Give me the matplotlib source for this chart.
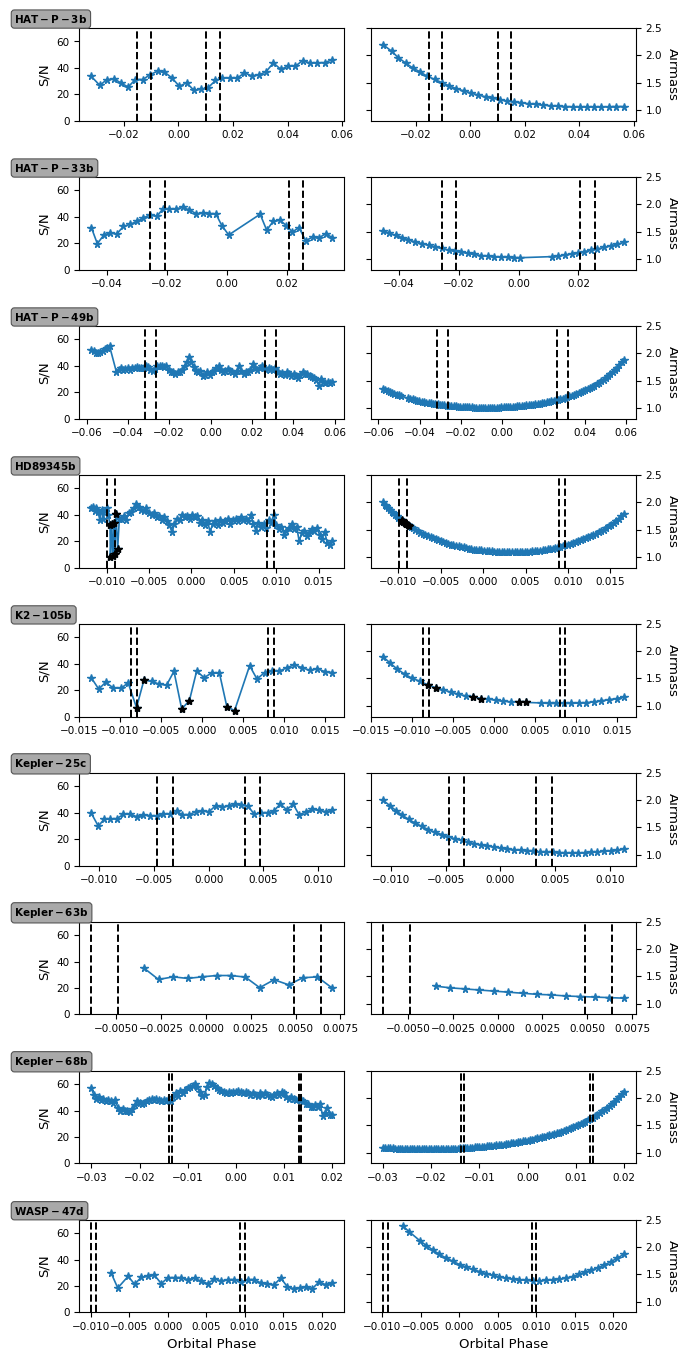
import matplotlib
matplotlib.use('Agg')
import matplotlib.pyplot as plt
from matplotlib.ticker import MultipleLocator

# ---------------- data ----------------
planets = ['HAT-P-3b', 'HAT-P-33b', 'HAT-P-49b', 'HD89345b', 'K2-105b',
           'Kepler-25c', 'Kepler-63b', 'Kepler-68b', 'WASP-47d']

hat3_phase = [-0.0319, -0.0288, -0.0263, -0.0236, -0.0210, -0.0184, -0.0158, -0.0130, -0.0103, -0.0076,
              -0.0051, -0.0024, 0.0004, 0.0030, 0.0057, 0.0082, 0.0109, 0.0136, 0.0161, 0.0188,
              0.0215, 0.0242, 0.0269, 0.0296, 0.0321, 0.0348, 0.0376, 0.0402, 0.0428, 0.0455,
              0.0481, 0.0509, 0.0536, 0.0564]
hat3_snr = [33.5, 26.8, 31.0, 31.8, 28.5, 25.5, 31.2, 31.2, 35.0, 37.5,
            36.8, 32.5, 26.0, 28.8, 23.0, 23.8, 25.0, 30.5, 32.5, 32.2,
            32.2, 36.2, 34.0, 34.8, 37.0, 43.8, 38.8, 41.5, 41.2, 45.5,
            43.8, 43.8, 44.0, 46.2]
hat3_airmass = [2.20, 2.08, 1.96, 1.86, 1.77, 1.70, 1.62, 1.56, 1.50, 1.44,
                1.39, 1.35, 1.31, 1.27, 1.24, 1.21, 1.19, 1.16, 1.15, 1.13,
                1.11, 1.10, 1.085, 1.075, 1.067, 1.06, 1.055, 1.055, 1.055, 1.055,
                1.055, 1.055, 1.06, 1.06]
hat3_contacts = [-0.0151, -0.0102, 0.0102, 0.0151]
hat3_flag = []

hat33_phase = [-0.0453, -0.0433, -0.0411, -0.0389, -0.0368, -0.0346, -0.0323, -0.0301, -0.0279, -0.0257,
               -0.0234, -0.0214, -0.0192, -0.0170, -0.0148, -0.0126, -0.0103, -0.0081, -0.0059, -0.0037,
               -0.0017, 0.0006, 0.0111, 0.0133, 0.0154, 0.0177, 0.0199, 0.0219, 0.0241, 0.0263,
               0.0286, 0.0308, 0.0330, 0.0352]
hat33_snr = [31.9, 19.7, 26.3, 27.8, 27.1, 32.7, 34.4, 36.5, 39.2, 41.5,
             40.3, 46.1, 45.6, 46.1, 47.1, 45.3, 42.5, 42.8, 42.5, 42.3,
             33.4, 26.3, 42.0, 29.9, 36.5, 37.5, 33.4, 28.6, 31.9, 22.0,
             24.6, 24.1, 27.3, 24.3]
hat33_airmass = [1.52, 1.47, 1.43, 1.39, 1.35, 1.31, 1.28, 1.25, 1.22, 1.19,
                 1.16, 1.14, 1.12, 1.10, 1.08, 1.06, 1.05, 1.04, 1.03, 1.025,
                 1.02, 1.02, 1.04, 1.05, 1.07, 1.09, 1.11, 1.13, 1.16, 1.18,
                 1.21, 1.24, 1.27, 1.30]
hat33_contacts = [-0.0256, -0.0208, 0.0206, 0.0255]
hat33_flag = []

hat49_phase = [-0.0577, -0.0566, -0.0555, -0.0544, -0.0533, -0.0522, -0.0511, -0.0500, -0.0489,
               -0.0456, -0.0445, -0.0434, -0.0423, -0.0412, -0.0401, -0.0390, -0.0379, -0.0368, -0.0357,
               -0.0346, -0.0335, -0.0324, -0.0313, -0.0302, -0.0291, -0.0280, -0.0269, -0.0258, -0.0247,
               -0.0236, -0.0225, -0.0214, -0.0203, -0.0192, -0.0181, -0.0170, -0.0159, -0.0148, -0.0137,
               -0.0126, -0.0115, -0.0104, -0.0093, -0.0082, -0.0071, -0.0060, -0.0049, -0.0038, -0.0027,
               -0.0016, -0.0005, 0.0006, 0.0017, 0.0028, 0.0039, 0.0050, 0.0061, 0.0072, 0.0083,
               0.0094, 0.0105, 0.0116, 0.0127, 0.0138, 0.0149, 0.0160, 0.0171, 0.0182, 0.0193,
               0.0204, 0.0215, 0.0226, 0.0237, 0.0248, 0.0259, 0.0270, 0.0281, 0.0292, 0.0303,
               0.0314, 0.0325, 0.0336, 0.0347, 0.0358, 0.0369, 0.0380, 0.0391, 0.0402, 0.0413,
               0.0424, 0.0435, 0.0446, 0.0457, 0.0468, 0.0479, 0.0490, 0.0501, 0.0512, 0.0523,
               0.0534, 0.0545, 0.0556, 0.0567, 0.0578, 0.0589]
hat49_snr = [52.0, 51.0, 50.0, 49.5, 50.5, 51.5, 52.5, 53.5, 55.0,
             35.5, 37.0, 38.0, 37.0, 37.5, 38.0, 37.0, 38.0, 38.5, 39.0,
             38.0, 38.5, 38.5, 40.0, 39.0, 37.0, 36.0, 37.5, 39.5, 40.0,
             40.0, 39.0, 40.0, 37.0, 35.5, 35.0, 34.0, 35.0, 35.0, 37.0,
             40.0, 43.0, 46.5, 43.0, 39.0, 36.0, 35.0, 36.0, 32.5, 33.0,
             35.0, 33.0, 35.5, 36.0, 38.0, 39.5, 37.0, 35.0, 36.0, 37.5,
             36.0, 35.5, 33.5, 36.0, 39.5, 36.0, 34.0, 35.0, 35.5, 37.0,
             41.5, 38.0, 36.5, 38.0, 40.0, 38.5, 37.0, 38.0, 37.5, 37.0,
             38.0, 35.0, 33.5, 34.5, 33.0, 35.0, 33.5, 32.5, 34.0, 32.0,
             31.0, 33.0, 35.0, 34.0, 33.5, 32.0, 31.5, 30.5, 29.5, 25.0,
             30.0, 27.5, 27.0, 28.0, 27.0, 27.5]
hat49_airmass = [1.350, 1.330, 1.310, 1.292, 1.275, 1.258, 1.242, 1.227, 1.213,
                 1.174, 1.163, 1.152, 1.141, 1.131, 1.121, 1.112, 1.104, 1.095, 1.088,
                 1.080, 1.073, 1.067, 1.060, 1.055, 1.049, 1.044, 1.039, 1.034, 1.030,
                 1.026, 1.023, 1.019, 1.016, 1.013, 1.011, 1.009, 1.007, 1.005, 1.003,
                 1.002, 1.001, 1.001, 1.000, 1.000, 1.000, 1.000, 1.001, 1.002, 1.003,
                 1.004, 1.006, 1.008, 1.010, 1.012, 1.015, 1.018, 1.021, 1.025, 1.029,
                 1.033, 1.037, 1.042, 1.047, 1.053, 1.058, 1.064, 1.071, 1.078, 1.085,
                 1.093, 1.101, 1.109, 1.118, 1.127, 1.137, 1.148, 1.158, 1.170, 1.182,
                 1.195, 1.208, 1.222, 1.237, 1.252, 1.269, 1.286, 1.304, 1.323, 1.343,
                 1.364, 1.386, 1.409, 1.434, 1.460, 1.488, 1.518, 1.549, 1.582, 1.618,
                 1.655, 1.696, 1.738, 1.784, 1.834, 1.887]
hat49_contacts = [-0.0318, -0.0265, 0.0265, 0.0318]
hat49_flag = []

hd_phase = [-0.0118, -0.0116, -0.0114, -0.0112, -0.0110, -0.0108, -0.0106, -0.0104, -0.0102, -0.0100,
            -0.0098, -0.0096, -0.00955, -0.0094, -0.00925, -0.0091, -0.00905, -0.0089, -0.0087, -0.0085,
            -0.0083, -0.0080, -0.0077, -0.0074, -0.0071, -0.0068, -0.0065, -0.0062, -0.0059, -0.0056,
            -0.0053, -0.0050, -0.0047, -0.0044, -0.0041, -0.0038, -0.0035, -0.0032, -0.0029, -0.0026,
            -0.0023, -0.0020, -0.0017, -0.0014, -0.0011, -0.0008, -0.0005, -0.0002, 0.0001, 0.0004,
            0.0007, 0.0010, 0.0013, 0.0016, 0.0019, 0.0022, 0.0025, 0.0028, 0.0031, 0.0034,
            0.0037, 0.0040, 0.0043, 0.0046, 0.0049, 0.0052, 0.0055, 0.0058, 0.0061, 0.0064,
            0.0067, 0.0070, 0.0073, 0.0076, 0.0079, 0.0082, 0.0085, 0.0088, 0.0091, 0.0094,
            0.0097, 0.0100, 0.0103, 0.0106, 0.0109, 0.0112, 0.0115, 0.0118, 0.0121, 0.0124,
            0.0127, 0.0130, 0.0133, 0.0136, 0.0139, 0.0142, 0.0145, 0.0148, 0.0151, 0.0154,
            0.0157, 0.0160, 0.0163, 0.0166]
hd_snr = [45, 46, 43, 45, 42, 36, 44, 37, 43, 45,
          40, 32, 8.3, 33, 8.8, 34, 10, 40.8, 14, 37,
          37, 39, 36, 41, 42, 45, 48, 46, 44, 43,
          45, 41, 40, 41, 38, 39, 36, 38, 35, 32,
          27, 33, 37, 36, 40, 38, 39, 37, 40, 38,
          39, 34, 36, 32, 35, 27, 33, 35, 32, 36,
          34, 35, 37, 33, 36, 37, 35, 38, 36, 37,
          35, 40, 33, 28, 34, 31, 33, 30, 36, 34,
          40, 32, 29, 31, 25, 28, 30, 33, 29, 31,
          20, 26, 28, 24, 26, 29, 28, 30, 25, 22,
          27, 19, 17, 20]
hd_airmass = [2.00, 1.96, 1.93, 1.90, 1.86, 1.83, 1.80, 1.77, 1.75, 1.72,
              1.69, 1.67, 1.66, 1.64, 1.62, 1.60, 1.60, 1.58, 1.56, 1.54,
              1.52, 1.49, 1.47, 1.44, 1.42, 1.40, 1.38, 1.36, 1.34, 1.32,
              1.30, 1.28, 1.265, 1.25, 1.235, 1.22, 1.21, 1.20, 1.19, 1.18,
              1.17, 1.16, 1.15, 1.14, 1.13, 1.125, 1.12, 1.115, 1.11, 1.105,
              1.10, 1.10, 1.095, 1.09, 1.09, 1.09, 1.085, 1.085, 1.085, 1.085,
              1.085, 1.085, 1.087, 1.09, 1.09, 1.093, 1.095, 1.10, 1.10, 1.105,
              1.11, 1.12, 1.125, 1.135, 1.14, 1.15, 1.16, 1.17, 1.185, 1.20,
              1.21, 1.22, 1.235, 1.25, 1.265, 1.28, 1.30, 1.32, 1.34, 1.36,
              1.38, 1.40, 1.42, 1.45, 1.47, 1.50, 1.53, 1.56, 1.59, 1.62,
              1.66, 1.70, 1.74, 1.79]
hd_contacts = [-0.0099, -0.0090, 0.0089, 0.0097]
hd_flag = [11, 12, 13, 14, 15, 16, 17, 18]

k2_phase = [-0.01355, -0.01265, -0.0118, -0.0109, -0.00996, -0.00906, -0.00804, -0.00714, -0.0062, -0.0053,
            -0.00437, -0.00347, -0.00253, -0.00159, -0.0007, 0.0002, 0.00114, 0.00208, 0.00298, 0.00392,
            0.00576, 0.00665, 0.0076, 0.0085, 0.0094, 0.01033, 0.01122, 0.01216, 0.0131, 0.014,
            0.01494, 0.01584]
k2_snr = [29.3, 20.8, 26.0, 21.8, 21.3, 25.5, 6.8, 27.5, 26.8, 24.5,
          23.8, 34.3, 5.8, 12.0, 34.5, 29.5, 33.0, 32.8, 7.5, 4.5,
          38.5, 28.5, 33.3, 34.5, 34.5, 37.0, 39.3, 37.0, 35.0, 36.3,
          34.0, 33.3]
k2_airmass = [1.90, 1.78, 1.67, 1.58, 1.50, 1.45, 1.38, 1.33, 1.29, 1.25,
              1.21, 1.18, 1.16, 1.13, 1.12, 1.10, 1.08, 1.07, 1.07, 1.06,
              1.05, 1.04, 1.04, 1.04, 1.04, 1.05, 1.055, 1.07, 1.09, 1.11,
              1.13, 1.16]
k2_contacts = [-0.0087, -0.0080, 0.0080, 0.0087]
k2_flag = [6, 7, 12, 13, 18, 19]

k25_phase = [-0.01073, -0.01009, -0.00955, -0.0090, -0.0084, -0.00779, -0.00718, -0.00658, -0.00597, -0.00536,
             -0.00476, -0.00415, -0.00355, -0.00294, -0.0024, -0.00179, -0.00118, -0.00058, 0.00003, 0.00064,
             0.00124, 0.00185, 0.00239, 0.0030, 0.00361, 0.00418, 0.00479, 0.00539, 0.00594, 0.00655,
             0.00712, 0.00773, 0.00827, 0.00888, 0.00948, 0.01009, 0.0107, 0.0113]
k25_snr = [39.5, 29.8, 35.3, 35.3, 35.5, 38.8, 38.8, 37.0, 38.3, 37.8,
           37.5, 39.3, 38.8, 41.0, 38.5, 38.5, 40.8, 41.3, 40.8, 45.3,
           44.3, 45.3, 46.3, 45.8, 44.8, 38.8, 40.0, 40.0, 41.0, 46.8,
           42.3, 46.3, 38.5, 40.5, 42.5, 41.8, 40.8, 41.8]
k25_airmass = [2.00, 1.90, 1.81, 1.73, 1.65, 1.58, 1.52, 1.46, 1.41, 1.37,
               1.33, 1.29, 1.26, 1.23, 1.20, 1.18, 1.16, 1.14, 1.12, 1.10,
               1.09, 1.08, 1.07, 1.06, 1.05, 1.045, 1.04, 1.035, 1.03, 1.03,
               1.03, 1.035, 1.04, 1.05, 1.06, 1.07, 1.085, 1.10]
k25_contacts = [-0.0047, -0.0033, 0.0033, 0.0047]
k25_flag = []

k63_phase = [-0.00345, -0.00265, -0.00183, -0.00103, -0.00022, 0.0006, 0.0014, 0.0022, 0.0030, 0.0038,
             0.00461, 0.00541, 0.00621, 0.00705]
k63_snr = [35.0, 26.5, 28.5, 27.3, 28.5, 29.5, 29.5, 28.3, 20.3, 26.3,
           22.5, 27.8, 28.5, 20.0]
k63_airmass = [1.32, 1.29, 1.27, 1.25, 1.23, 1.21, 1.19, 1.17, 1.16, 1.14,
               1.13, 1.12, 1.11, 1.10]
k63_contacts = [-0.0064, -0.0049, 0.0049, 0.0064]
k63_flag = []

k68_phase = [-0.0300, -0.0295, -0.0290, -0.0285, -0.0280, -0.0275, -0.0270, -0.0265, -0.0260, -0.0255,
             -0.0250, -0.0245, -0.0240, -0.0235, -0.0230, -0.0225, -0.0220, -0.0215, -0.0210, -0.0205,
             -0.0200, -0.0195, -0.0190, -0.0185, -0.0180, -0.0175, -0.0170, -0.0165, -0.0160, -0.0155,
             -0.0150, -0.0145, -0.0140, -0.0135, -0.0130, -0.0125, -0.0120, -0.0115, -0.0110, -0.0105,
             -0.0100, -0.0095, -0.0090, -0.0085, -0.0080, -0.0075, -0.0070, -0.0065, -0.0060, -0.0055,
             -0.0050, -0.0045, -0.0040, -0.0035, -0.0030, -0.0025, -0.0020, -0.0015, -0.0010, -0.0005,
             0.0000, 0.0005, 0.0010, 0.0015, 0.0020, 0.0025, 0.0030, 0.0035, 0.0040, 0.0045,
             0.0050, 0.0055, 0.0060, 0.0065, 0.0070, 0.0075, 0.0080, 0.0085, 0.0090, 0.0095,
             0.0100, 0.0105, 0.0110, 0.0115, 0.0120, 0.0125, 0.0130, 0.0135, 0.0140, 0.0145,
             0.0150, 0.0155, 0.0160, 0.0165, 0.0170, 0.0175, 0.0180, 0.0185, 0.0190, 0.0195,
             0.0200]
k68_snr = [57, 52, 49, 50, 48, 49, 47, 48, 47, 46,
           48, 42, 40, 41, 39.5, 40, 39, 41, 44, 47,
           46, 45, 46, 47, 48, 49, 48, 49, 48, 47.5,
           48, 47, 48, 47, 50, 53, 51, 55, 53, 56,
           57, 58, 59, 60, 58, 54, 51, 52, 58, 61,
           60, 59, 57, 56, 55, 54, 53, 54, 53, 54,
           54, 55, 54, 53, 54, 53, 52, 53, 52, 51,
           53, 52, 53, 52, 51, 50, 52, 53, 52, 54,
           53, 50, 49, 50, 49, 48, 49, 48, 47, 45,
           45, 43, 43, 44, 43, 45, 36, 38, 42, 37,
           37]
k68_airmass = [1.087, 1.084, 1.081, 1.079, 1.076, 1.074, 1.072, 1.070, 1.068, 1.067,
               1.066, 1.064, 1.063, 1.062, 1.062, 1.061, 1.061, 1.061, 1.060, 1.060,
               1.061, 1.061, 1.062, 1.062, 1.063, 1.064, 1.066, 1.067, 1.068, 1.070,
               1.072, 1.074, 1.076, 1.079, 1.081, 1.084, 1.087, 1.090, 1.093, 1.096,
               1.100, 1.104, 1.108, 1.112, 1.117, 1.121, 1.126, 1.131, 1.137, 1.142,
               1.148, 1.154, 1.160, 1.167, 1.174, 1.181, 1.188, 1.196, 1.204, 1.212,
               1.221, 1.230, 1.239, 1.248, 1.259, 1.269, 1.280, 1.291, 1.303, 1.315,
               1.327, 1.340, 1.354, 1.368, 1.383, 1.398, 1.414, 1.431, 1.448, 1.466,
               1.485, 1.504, 1.525, 1.546, 1.569, 1.592, 1.616, 1.642, 1.668, 1.696,
               1.726, 1.757, 1.789, 1.823, 1.859, 1.897, 1.936, 1.979, 2.023, 2.071,
               2.120]
k68_contacts = [-0.0138, -0.0132, 0.0130, 0.0136]
k68_flag = []

w47_phase = [-0.00733, -0.00647, -0.00513, -0.00427, -0.00345, -0.00259, -0.00172, -0.00082, 0.00004, 0.0009,
             0.00177, 0.00263, 0.0035, 0.00436, 0.00522, 0.00608, 0.00694, 0.0078, 0.00866, 0.00953,
             0.01039, 0.01125, 0.01211, 0.01297, 0.01384, 0.0147, 0.01556, 0.01638, 0.01716, 0.01802,
             0.01879, 0.01966, 0.02052, 0.02138]
w47_snr = [29.8, 18.5, 27.3, 21.3, 26.5, 27.3, 28.3, 21.8, 26.3, 26.3,
           26.3, 24.8, 26.0, 23.5, 21.8, 25.5, 23.8, 24.8, 24.8, 23.0,
           24.8, 24.8, 22.3, 21.3, 21.0, 26.0, 19.3, 18.0, 18.5, 19.3,
           18.0, 23.0, 21.0, 22.5]
w47_airmass = [2.39, 2.28, 2.12, 2.03, 1.95, 1.87, 1.80, 1.74, 1.68, 1.63,
               1.59, 1.55, 1.51, 1.48, 1.45, 1.43, 1.41, 1.40, 1.39, 1.38,
               1.38, 1.39, 1.40, 1.41, 1.43, 1.46, 1.50, 1.54, 1.58, 1.62,
               1.67, 1.73, 1.80, 1.87]
w47_contacts = [-0.0099, -0.0093, 0.0094, 0.0100]
w47_flag = []

# x tick spacing per planet (None = automatic)
xtick_steps = [None, None, None, None, None, None, 0.0025, None, None]

datasets = [
    (hat3_phase, hat3_snr, hat3_airmass, hat3_contacts, hat3_flag),
    (hat33_phase, hat33_snr, hat33_airmass, hat33_contacts, hat33_flag),
    (hat49_phase, hat49_snr, hat49_airmass, hat49_contacts, hat49_flag),
    (hd_phase, hd_snr, hd_airmass, hd_contacts, hd_flag),
    (k2_phase, k2_snr, k2_airmass, k2_contacts, k2_flag),
    (k25_phase, k25_snr, k25_airmass, k25_contacts, k25_flag),
    (k63_phase, k63_snr, k63_airmass, k63_contacts, k63_flag),
    (k68_phase, k68_snr, k68_airmass, k68_contacts, k68_flag),
    (w47_phase, w47_snr, w47_airmass, w47_contacts, w47_flag),
]

# ---------------- figure ----------------
W, H = 678, 1354
fig = plt.figure(figsize=(W / 100, H / 100), dpi=100)

blue = '#1f77b4'
top0, pitch, ah = 28.3, 148.96, 92.4
lx, rx, aw = 79.3, 371.0, 265.0

for i, (name, (ph, snr, am, cont, flag)) in enumerate(zip(planets, datasets)):
    top = top0 + i * pitch
    bottom = 1 - (top + ah) / H
    axl = fig.add_axes([lx / W, bottom, aw / W, ah / H])
    axr = fig.add_axes([rx / W, bottom, aw / W, ah / H])

    axl.plot(ph, snr, '-', marker='*', color=blue, ms=5.5, lw=1.2)
    if flag:
        axl.plot([ph[j] for j in flag], [snr[j] for j in flag], '*', color='k', ms=6, lw=0)
    for c in cont:
        axl.axvline(c, color='k', ls='--', lw=1.4)
    axl.set_ylim(0, 70)
    axl.set_yticks([0, 20, 40, 60])
    axl.set_ylabel('S/N', fontsize=9.5)

    axr.plot(ph, am, '-', marker='*', color=blue, ms=5.5, lw=1.2)
    if flag:
        axr.plot([ph[j] for j in flag], [am[j] for j in flag], '*', color='k', ms=6, lw=0)
    for c in cont:
        axr.axvline(c, color='k', ls='--', lw=1.4)
    axr.set_ylim(0.8, 2.5)
    axr.set_yticks([1.0, 1.5, 2.0, 2.5])
    axr.tick_params(axis='y', left=True, right=True, labelleft=False, labelright=True)
    axr.yaxis.set_label_position('right')
    axr.set_ylabel('Airmass', fontsize=9.5, rotation=270, labelpad=12)

    for ax in (axl, axr):
        ax.tick_params(labelsize=7.5)
        if xtick_steps[i] is not None:
            ax.xaxis.set_major_locator(MultipleLocator(xtick_steps[i]))

    label = r'$\bf{' + name + '}$'
    axl.text(-0.245, 1.10, label, transform=axl.transAxes, fontsize=7.5,
             ha='left', va='center',
             bbox=dict(boxstyle='round,pad=0.3', fc='#a9a9a9', ec='#555555', lw=0.8))

    if i == len(planets) - 1:
        axl.set_xlabel('Orbital Phase', fontsize=9.5)
        axr.set_xlabel('Orbital Phase', fontsize=9.5)

fig.savefig('out.png', dpi=100)
